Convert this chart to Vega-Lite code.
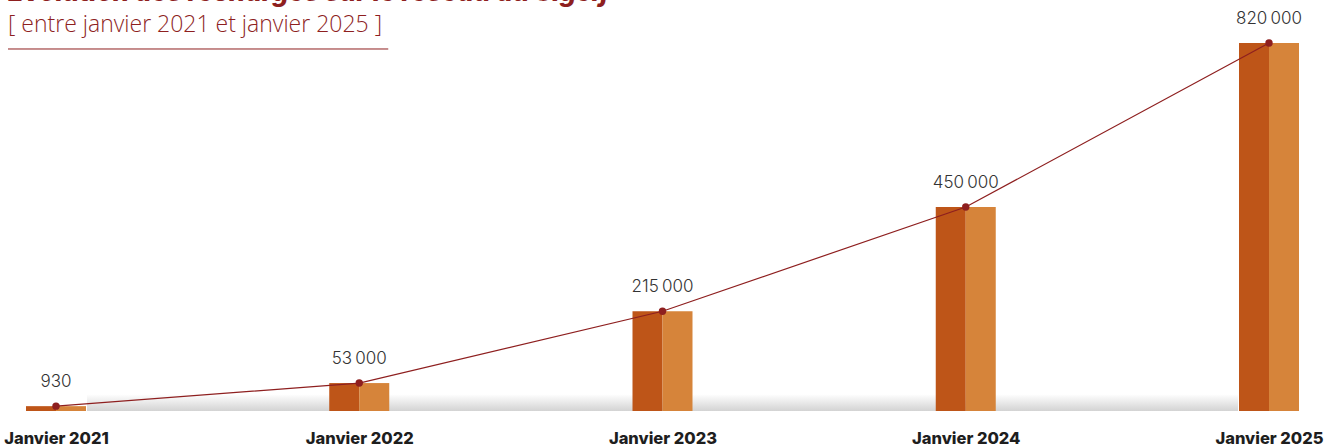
{
  "$schema": "https://vega.github.io/schema/vega-lite/v6.json",
  "width": 1213,
  "height": 368,
  "autosize": {"type": "none"},
  "padding": {"left": 56, "right": 55, "top": 43, "bottom": 37},
  "background": "white",
  "config": {
    "view": {"stroke": null},
    "locale": {"number": {"decimal": ",", "thousands": "\u202f", "grouping": [3], "currency": ["", "\u00a0€"]}}
  },
  "title": {
    "text": "Évolution des recharges sur le réseau du Sigeif",
    "subtitle": "[ entre janvier 2021 et janvier 2025 ]",
    "anchor": "start",
    "frame": "group",
    "dx": -48,
    "dy": 37,
    "offset": 10,
    "font": "Inter",
    "fontSize": 26,
    "fontWeight": 800,
    "fontStyle": "italic",
    "color": "#8E1F1F",
    "subtitleFont": "Open Sans",
    "subtitleFontSize": 23,
    "subtitleFontWeight": 300,
    "subtitleColor": "#8E1F1F",
    "subtitlePadding": 8
  },
  "data": {
    "values": [
      {"periode": "Janvier 2021", "recharges": 930},
      {"periode": "Janvier 2022", "recharges": 53000},
      {"periode": "Janvier 2023", "recharges": 215000},
      {"periode": "Janvier 2024", "recharges": 450000},
      {"periode": "Janvier 2025", "recharges": 820000}
    ]
  },
  "layer": [
    {
      "data": {"values": [{"debut": "Janvier 2021", "fin": "Janvier 2025", "bas": -10000, "haut": 28000}]},
      "mark": {
        "type": "rect",
        "xOffset": 31,
        "x2Offset": -31,
        "color": {
          "gradient": "linear",
          "x1": 0, "y1": 0, "x2": 0, "y2": 1,
          "stops": [
            {"offset": 0, "color": "#ffffff"},
            {"offset": 1, "color": "#d3d3d3"}
          ]
        }
      },
      "encoding": {
        "x": {
          "field": "debut",
          "type": "ordinal",
          "scale": {"type": "point", "padding": 0, "domain": ["Janvier 2021", "Janvier 2022", "Janvier 2023", "Janvier 2024", "Janvier 2025"]},
          "axis": {
            "title": null,
            "domain": false,
            "ticks": false,
            "grid": false,
            "labelAngle": 0,
            "labelFont": "Inter",
            "labelFontSize": 16.5,
            "labelFontWeight": 800,
            "labelColor": "#1E1E1E",
            "labelPadding": 19,
            "labelFlush": false,
            "labelOverlap": false
          }
        },
        "x2": {"field": "fin"},
        "y": {"field": "haut", "type": "quantitative", "scale": {"domain": [-10000, 820000], "nice": false, "zero": false}, "axis": null},
        "y2": {"field": "bas"}
      }
    },
    {
      "mark": {"type": "bar", "width": 30, "xOffset": -15, "color": "#BE5518"},
      "encoding": {
        "x": {"field": "periode", "type": "ordinal"},
        "y": {"field": "recharges", "type": "quantitative"},
        "y2": {"datum": -10000}
      }
    },
    {
      "mark": {"type": "bar", "width": 30, "xOffset": 15, "color": "#D6843A"},
      "encoding": {
        "x": {"field": "periode", "type": "ordinal"},
        "y": {"field": "recharges", "type": "quantitative"},
        "y2": {"datum": -10000}
      }
    },
    {
      "mark": {"type": "line", "color": "#8E1F1F", "strokeWidth": 1.2},
      "encoding": {
        "x": {"field": "periode", "type": "ordinal"},
        "y": {"field": "recharges", "type": "quantitative"}
      }
    },
    {
      "mark": {"type": "circle", "color": "#8E1F1F", "size": 55, "opacity": 1},
      "encoding": {
        "x": {"field": "periode", "type": "ordinal"},
        "y": {"field": "recharges", "type": "quantitative"}
      }
    },
    {
      "mark": {"type": "text", "dy": -24, "font": "Inter", "fontSize": 17, "fontWeight": 300, "color": "#333333", "baseline": "middle"},
      "encoding": {
        "x": {"field": "periode", "type": "ordinal"},
        "y": {"field": "recharges", "type": "quantitative"},
        "text": {"field": "recharges", "type": "quantitative", "format": ","}
      }
    },
    {
      "data": {"values": [{"debut": "Janvier 2021", "fin": "Janvier 2022", "niveau": 806500}]},
      "mark": {"type": "rule", "color": "#8E1F1F", "strokeWidth": 1, "xOffset": -48, "x2Offset": 29},
      "encoding": {
        "x": {"field": "debut", "type": "ordinal"},
        "x2": {"field": "fin"},
        "y": {"field": "niveau", "type": "quantitative"}
      }
    }
  ]
}
